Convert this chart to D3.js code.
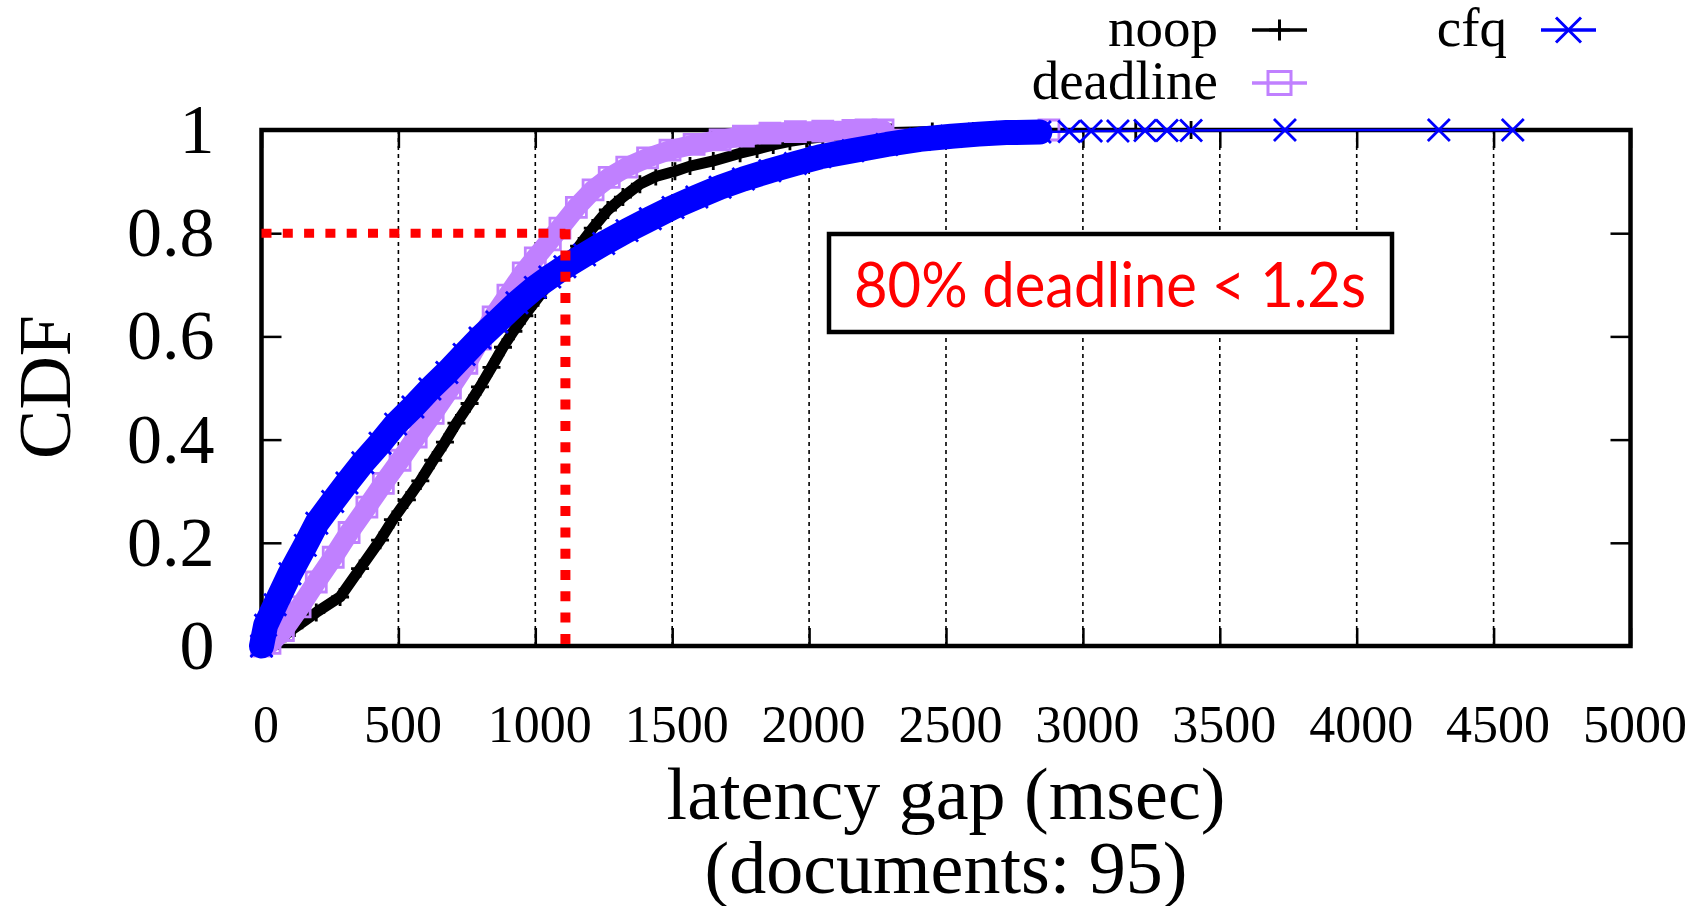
<!DOCTYPE html>
<html>
<head>
<meta charset="utf-8">
<script src="https://cdn.jsdelivr.net/npm/d3@7"></script>
<style>
html, body { margin: 0; padding: 0; background: #ffffff; }
svg { display: block; }
</style>
</head>
<body>
<svg id="chart" width="1698" height="906"></svg>
<script>
// ---------------- data ----------------
const xTicks = [0, 500, 1000, 1500, 2000, 2500, 3000, 3500, 4000, 4500, 5000];
const yTicks = [0, 0.2, 0.4, 0.6, 0.8, 1];
const yTickLabels = ["0", "0.2", "0.4", "0.6", "0.8", "1"];
const seriesNames = ["noop", "deadline", "cfq"];

// noop (dense body of the CDF)
const noopX = [0, 60, 120, 200, 287, 360, 433, 480, 531, 580, 627, 670, 712, 760, 798, 840, 882, 920, 960, 1010,
  1060, 1110, 1160, 1210, 1265, 1320, 1382, 1440, 1510, 1565, 1650, 1748, 1810, 1869, 1930, 1991, 2050, 2111,
  2200, 2300, 2450, 2600, 2727, 2785];
const noopY = [0, 0.01, 0.035, 0.065, 0.095, 0.15, 0.205, 0.245, 0.283, 0.32, 0.36, 0.395, 0.432, 0.47, 0.502,
  0.54, 0.579, 0.61, 0.64, 0.675, 0.71, 0.74, 0.775, 0.81, 0.845, 0.87, 0.895, 0.91, 0.92, 0.93, 0.94, 0.955,
  0.963, 0.971, 0.978, 0.983, 0.987, 0.99, 0.993, 0.995, 0.997, 0.998, 0.999, 0.999];
// noop (sparse tail)
const noopTailX = [2818, 3193, 3395];
const noopTailY = [1, 1, 1];

// deadline (dense body)
const deadlineX = [0, 31, 80, 141, 200, 262, 320, 385, 445, 506, 565, 627, 690, 750, 800, 846, 900, 956, 1000,
  1055, 1090, 1150, 1211, 1270, 1334, 1410, 1492, 1580, 1675, 1760, 1857, 1950, 2050, 2160, 2208, 2270];
const deadlineY = [0, 0.005, 0.03, 0.076, 0.124, 0.172, 0.22, 0.269, 0.315, 0.36, 0.405, 0.451, 0.5, 0.548, 0.595,
  0.638, 0.68, 0.723, 0.752, 0.787, 0.81, 0.85, 0.884, 0.908, 0.928, 0.946, 0.961, 0.972, 0.981, 0.988, 0.994,
  0.997, 0.998, 0.999, 1, 1];
// deadline (sparse tail)
const deadlineTailX = [2876];
const deadlineTailY = [1];

// cfq (dense body)
const cfqX = [0, 15, 50, 104, 160, 202, 260, 312, 370, 433, 490, 553, 615, 677, 740, 798, 860, 933, 1000, 1053,
  1108, 1180, 1250, 1335, 1420, 1503, 1590, 1675, 1760, 1857, 1950, 2040, 2160, 2284, 2405, 2520, 2620, 2720, 2843];
const cfqY = [0, 0.04, 0.08, 0.14, 0.195, 0.238, 0.28, 0.316, 0.355, 0.393, 0.43, 0.463, 0.498, 0.53, 0.565, 0.597,
  0.628, 0.665, 0.695, 0.715, 0.735, 0.758, 0.78, 0.805, 0.828, 0.85, 0.87, 0.889, 0.905, 0.921, 0.935, 0.948,
  0.96, 0.972, 0.982, 0.988, 0.992, 0.995, 0.996];
// cfq (sparse tail)
const cfqTailX = [2950, 3030, 3128, 3227, 3307, 3395, 3738, 4300, 4570];
const cfqTailY = [0.997, 0.998, 0.998, 0.999, 0.999, 0.999, 1, 1, 1];

// annotation
const markLatency = 1110;
const markCdf = 0.8;
const annotationText = "80% deadline < 1.2s";
const xTitleLines = ["latency gap (msec)", "(documents: 95)"];
const yTitle = "CDF";

// ---------------- drawing ----------------
const svg = d3.select("#chart");
svg.append("rect").attr("width", 1698).attr("height", 906).attr("fill", "#ffffff");

const L = 261.5, R = 1630.5, T = 130, B = 646;
const x = d3.scaleLinear().domain([0, 5000]).range([L, R]);
const y = d3.scaleLinear().domain([0, 1]).range([B, T]);

const serif = "'Liberation Serif', 'Times New Roman', Times, serif";

// grid (vertical dotted)
svg.append("g").selectAll("line")
  .data(xTicks.filter(v => v > 0 && v < 5000))
  .join("line")
  .attr("x1", d => x(d)).attr("x2", d => x(d))
  .attr("y1", B).attr("y2", T)
  .attr("stroke", "#000").attr("stroke-width", 1.6)
  .attr("stroke-dasharray", "4,4");

// axes
const axB = svg.append("g").attr("transform", `translate(0,${B})`)
  .call(d3.axisBottom(x).tickValues(xTicks).tickSizeInner(-18).tickSizeOuter(0).tickPadding(59).tickFormat(d3.format("d")));
const axT = svg.append("g").attr("transform", `translate(0,${T})`)
  .call(d3.axisTop(x).tickValues(xTicks).tickSizeInner(-18).tickSizeOuter(0).tickFormat(""));
const axLft = svg.append("g").attr("transform", `translate(${L},0)`)
  .call(d3.axisLeft(y).tickValues(yTicks).tickSizeInner(-20).tickSizeOuter(0).tickPadding(47)
    .tickFormat((d, i) => yTickLabels[i]));
const axRgt = svg.append("g").attr("transform", `translate(${R},0)`)
  .call(d3.axisRight(y).tickValues(yTicks).tickSizeInner(-20).tickSizeOuter(0).tickFormat(""));

[axB, axT, axLft, axRgt].forEach(a => {
  a.select(".domain").remove();
  a.selectAll(".tick line").attr("stroke", "#000").attr("stroke-width", 2.5);
});
axB.selectAll("text").attr("font-family", serif).attr("font-size", 52).attr("fill", "#000").attr("dx", 4);
axLft.selectAll("text").attr("font-family", serif).attr("font-size", 70).attr("fill", "#000");

// border
svg.append("rect").attr("x", L).attr("y", T).attr("width", R - L).attr("height", B - T)
  .attr("fill", "none").attr("stroke", "#000").attr("stroke-width", 4.5);

// axis titles
svg.append("text").attr("x", (L + R) / 2).attr("y", 819).attr("text-anchor", "middle")
  .attr("font-family", serif).attr("font-size", 74).text(xTitleLines[0]);
svg.append("text").attr("x", (L + R) / 2).attr("y", 893).attr("text-anchor", "middle")
  .attr("font-family", serif).attr("font-size", 74).text(xTitleLines[1]);
svg.append("text").attr("transform", "translate(70,387) rotate(-90)").attr("text-anchor", "middle")
  .attr("font-family", serif).attr("font-size", 74).text(yTitle);

// marker helper
function markerPath(type, cx, cy, s) {
  if (type === "plus") return `M${cx - s},${cy}H${cx + s}M${cx},${cy - s}V${cy + s}`;
  if (type === "square") return `M${cx - s},${cy - s}H${cx + s}V${cy + s}H${cx - s}Z`;
  return `M${cx - s},${cy - s}L${cx + s},${cy + s}M${cx - s},${cy + s}L${cx + s},${cy - s}`;
}

const series = [
  { name: seriesNames[0], xs: noopX, ys: noopY, tx: noopTailX, ty: noopTailY,
    color: "#000000", band: 11, marker: "plus", ms: 9, legend: { col: 0, row: 0 } },
  { name: seriesNames[1], xs: deadlineX, ys: deadlineY, tx: deadlineTailX, ty: deadlineTailY,
    color: "#c080ff", band: 20, marker: "square", ms: 10, legend: { col: 0, row: 1 } },
  { name: seriesNames[2], xs: cfqX, ys: cfqY, tx: cfqTailX, ty: cfqTailY,
    color: "#0000ff", band: 25, marker: "cross", ms: 11, legend: { col: 1, row: 0 } }
];

const line = d3.line().x(d => x(d[0])).y(d => y(d[1]));

series.forEach(s => {
  const g = svg.append("g");
  const body = s.xs.map((v, i) => [v, s.ys[i]]);
  const tail = [body[body.length - 1]].concat(s.tx.map((v, i) => [v, s.ty[i]]));
  // dense region: overlapping markers form a thick band
  g.append("path").attr("d", line(body)).attr("fill", "none")
    .attr("stroke", s.color).attr("stroke-width", s.band)
    .attr("stroke-linejoin", "round").attr("stroke-linecap", "round");
  // sparse tail: thin line
  g.append("path").attr("d", line(tail)).attr("fill", "none")
    .attr("stroke", s.color).attr("stroke-width", 2.5);
  // markers
  const pts = body.concat(tail.slice(1));
  g.selectAll("path.m").data(pts).join("path").attr("class", "m")
    .attr("d", d => markerPath(s.marker, x(d[0]), y(d[1]), s.ms))
    .attr("fill", "none").attr("stroke", s.color).attr("stroke-width", 2.8);
});

// legend
const legX = [1218, 1507];
const legY = [30, 83];
series.forEach(s => {
  const tx = legX[s.legend.col], ty = legY[s.legend.row];
  svg.append("text").attr("x", tx).attr("y", ty + 16).attr("text-anchor", "end")
    .attr("font-family", serif).attr("font-size", 55).text(s.name);
  const x0 = tx + 34, x1 = tx + 89, cx = (x0 + x1) / 2;
  svg.append("line").attr("x1", x0).attr("x2", x1).attr("y1", ty).attr("y2", ty)
    .attr("stroke", s.color).attr("stroke-width", 3.5);
  svg.append("path").attr("d", markerPath(s.marker, cx, ty, s.ms + 1.5))
    .attr("fill", "none").attr("stroke", s.color).attr("stroke-width", 3);
});

// red dotted guide lines
svg.append("path")
  .attr("d", `M${x(0)},${y(markCdf)}H${x(markLatency)}`)
  .attr("fill", "none").attr("stroke", "#ff0000").attr("stroke-width", 9)
  .attr("stroke-dasharray", "10,11.3");
svg.append("path")
  .attr("d", `M${x(markLatency)},${y(markCdf) - 4}V${y(0)}`)
  .attr("fill", "none").attr("stroke", "#ff0000").attr("stroke-width", 10)
  .attr("stroke-dasharray", "10,11.3");

// annotation box
svg.append("rect").attr("x", 829).attr("y", 234).attr("width", 563).attr("height", 98)
  .attr("fill", "#ffffff").attr("stroke", "#000").attr("stroke-width", 4.5);
svg.append("text").attr("x", 1110).attr("y", 307).attr("text-anchor", "middle")
  .attr("font-family", "Lato, 'Open Sans', sans-serif").attr("font-size", 61)
  .attr("fill", "#ff0000").attr("textLength", 512).attr("lengthAdjust", "spacingAndGlyphs")
  .text(annotationText);
</script>
</body>
</html>
